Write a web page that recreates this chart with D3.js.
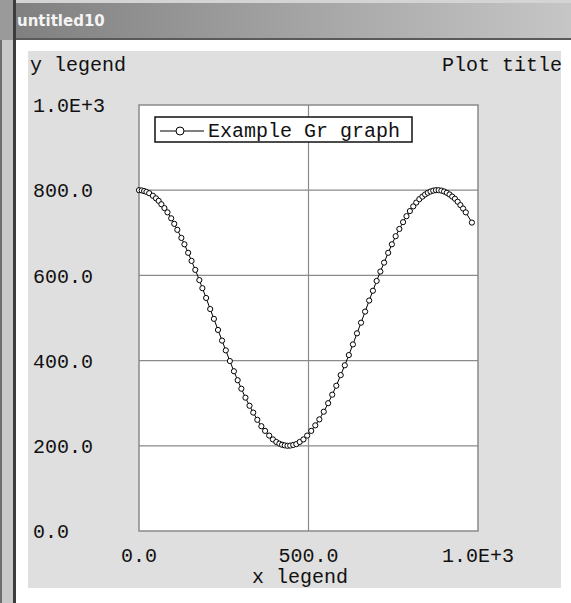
<!DOCTYPE html>
<html>
<head>
<meta charset="utf-8">
<script src="https://cdn.jsdelivr.net/npm/d3@7"></script>
<style>
  html, body { margin: 0; padding: 0; background: #ffffff; }
  svg { display: block; }
  .mono { font-family: "Courier New", "Liberation Mono", monospace; font-size: 20px; fill: #111; }
</style>
</head>
<body>
<div id="chart"></div>
<script>
// graph points
var xValues = [0, 8, 15, 22, 30, 41, 50, 58, 66, 75, 84, 95, 104, 113, 125, 134, 145, 155, 166, 178,
  187, 198, 210, 221, 233, 245, 256, 268, 280, 291, 302, 314, 326, 337, 349, 361, 372, 384, 395, 405,
  414, 422, 430, 438, 446, 455, 464, 474, 485, 496, 508, 520, 532, 545, 558, 570, 582, 595, 607, 619,
  631, 643, 655, 667, 679, 690, 701, 712, 723, 735, 746, 757, 768, 779, 789, 799, 809, 818, 827, 836,
  844, 852, 860, 868, 876, 884, 892, 900, 908, 916, 924, 932, 940, 948, 956, 964, 982];
var yValues = [800, 799.5, 798, 796, 793, 787, 781, 775, 767, 758, 748, 734, 721, 707, 688, 673, 653, 634, 613, 589,
  570, 547, 521, 498, 472, 447, 424, 399, 375, 354, 334, 313, 294, 278, 261, 246, 235, 224, 215, 209,
  205, 202.5, 201, 200, 200.5, 202, 204, 209, 215, 224, 235, 248, 262, 280, 300, 320, 341, 366, 389, 413,
  438, 464, 489, 515, 541, 564, 587, 609, 630, 653, 673, 692, 709, 725, 739, 751, 762, 771, 779, 785,
  790, 794, 797, 799, 800, 800, 799, 797, 794, 790, 785, 780, 773, 765, 757, 748, 724];

var xTicks = [0, 500, 1000];
var xTickLabels = ["0.0", "500.0", "1.0E+3"];
var yTicks = [0, 200, 400, 600, 800, 1000];
var yTickLabels = ["0.0", "200.0", "400.0", "600.0", "800.0", "1.0E+3"];
var xGrid = [500];
var yGrid = [200, 400, 600, 800];

var windowTitle = "untitled10";
var plotTitle = "Plot title";
var xLegend = "x legend";
var yLegend = "y legend";
var seriesName = "Example Gr graph";

var _width = 571, _height = 603;
var _left = 139, _right = 478, _top = 105, _bottom = 531;

var svg = d3.select("#chart").append("svg")
    .attr("width", _width)
    .attr("height", _height);

// window chrome
var defs = svg.append("defs");
var grad = defs.append("linearGradient").attr("id", "titlebar")
    .attr("x1", 0).attr("x2", 1).attr("y1", 0).attr("y2", 0);
grad.append("stop").attr("offset", 0).attr("stop-color", "#7e7e7e");
grad.append("stop").attr("offset", 1).attr("stop-color", "#c6c6c6");

svg.append("rect").attr("x", 0).attr("y", 0).attr("width", _width).attr("height", 3).attr("fill", "#d4d4d4");
svg.append("rect").attr("x", 0).attr("y", 3).attr("width", _width).attr("height", 35).attr("fill", "url(#titlebar)");
svg.append("rect").attr("x", 0).attr("y", 38).attr("width", _width).attr("height", 2).attr("fill", "#5a5a5a");

svg.append("rect").attr("x", 0).attr("y", 40).attr("width", 2).attr("height", _height - 40).attr("fill", "#6e6e6e");
svg.append("rect").attr("x", 2).attr("y", 40).attr("width", 11).attr("height", _height - 40).attr("fill", "#c9c9c9");
svg.append("rect").attr("x", 13).attr("y", 0).attr("width", 3).attr("height", _height).attr("fill", "#3c3c3c");
svg.append("rect").attr("x", 0).attr("y", 0).attr("width", 13).attr("height", 40).attr("fill", "#9a9a9a");

svg.append("text")
    .attr("x", 17)
    .attr("y", 26)
    .style("font-family", "DejaVu Sans, Verdana, sans-serif")
    .style("font-weight", "bold")
    .style("font-size", "15px")
    .attr("fill", "#f4f4f4")
    .text(windowTitle);

// grey panel
svg.append("rect")
    .attr("x", 28).attr("y", 51)
    .attr("width", 533).attr("height", 537)
    .attr("fill", "#dfdfdf");

var x = d3.scaleLinear().domain([0, 1000]).range([_left, _right]);
var y = d3.scaleLinear().domain([0, 1000]).range([_bottom, _top]);

// plot frame
svg.append("rect")
    .attr("x", x(0)).attr("y", y(1000))
    .attr("width", x(1000) - x(0)).attr("height", y(0) - y(1000))
    .attr("fill", "#ffffff")
    .attr("stroke", "#8a8a8a")
    .attr("stroke-width", 1.5);

svg.selectAll(".vgrid").data(xGrid).enter().append("line")
    .attr("class", "vgrid")
    .attr("x1", function(d) { return x(d); }).attr("x2", function(d) { return x(d); })
    .attr("y1", y(0)).attr("y2", y(1000))
    .attr("stroke", "#8a8a8a").attr("stroke-width", 1.2);

svg.selectAll(".hgrid").data(yGrid).enter().append("line")
    .attr("class", "hgrid")
    .attr("x1", x(0)).attr("x2", x(1000))
    .attr("y1", function(d) { return y(d); }).attr("y2", function(d) { return y(d); })
    .attr("stroke", "#8a8a8a").attr("stroke-width", 1.2);

// tick labels
svg.selectAll(".ylab").data(yTicks).enter().append("text")
    .attr("class", "ylab mono")
    .attr("x", 33)
    .attr("y", function(d) { return y(d) + 2; })
    .attr("dominant-baseline", "middle")
    .text(function(d, i) { return yTickLabels[i]; });

svg.selectAll(".xlab").data(xTicks).enter().append("text")
    .attr("class", "xlab mono")
    .attr("x", function(d) { return x(d); })
    .attr("y", 562)
    .attr("text-anchor", "middle")
    .text(function(d, i) { return xTickLabels[i]; });

svg.append("text").attr("class", "mono")
    .attr("x", 300).attr("y", 583)
    .attr("text-anchor", "middle")
    .text(xLegend);

svg.append("text").attr("class", "mono")
    .attr("x", 30).attr("y", 71)
    .text(yLegend);

svg.append("text").attr("class", "mono")
    .attr("x", 562).attr("y", 71)
    .attr("text-anchor", "end")
    .text(plotTitle);

// the graph
var pts = xValues.map(function(d, i) { return [d, yValues[i]]; });

svg.append("path")
    .datum(pts)
    .attr("fill", "none")
    .attr("stroke", "#000")
    .attr("stroke-width", 1)
    .attr("d", d3.line().x(function(d) { return x(d[0]); }).y(function(d) { return y(d[1]); }));

svg.selectAll(".pt").data(pts).enter().append("circle")
    .attr("class", "pt")
    .attr("cx", function(d) { return x(d[0]); })
    .attr("cy", function(d) { return y(d[1]); })
    .attr("r", 2.6)
    .attr("fill", "#fff")
    .attr("stroke", "#000")
    .attr("stroke-width", 1);

// legend
var legend = svg.append("g");
legend.append("rect")
    .attr("x", 155).attr("y", 117)
    .attr("width", 257).attr("height", 25)
    .attr("fill", "#fff")
    .attr("stroke", "#111")
    .attr("stroke-width", 1.5);
legend.append("line")
    .attr("x1", 160).attr("x2", 204)
    .attr("y1", 131).attr("y2", 131)
    .attr("stroke", "#000");
legend.append("circle")
    .attr("cx", 180).attr("cy", 131).attr("r", 4)
    .attr("fill", "#fff").attr("stroke", "#000");
legend.append("text").attr("class", "mono")
    .attr("x", 208).attr("y", 137)
    .text(seriesName);
</script>
</body>
</html>
